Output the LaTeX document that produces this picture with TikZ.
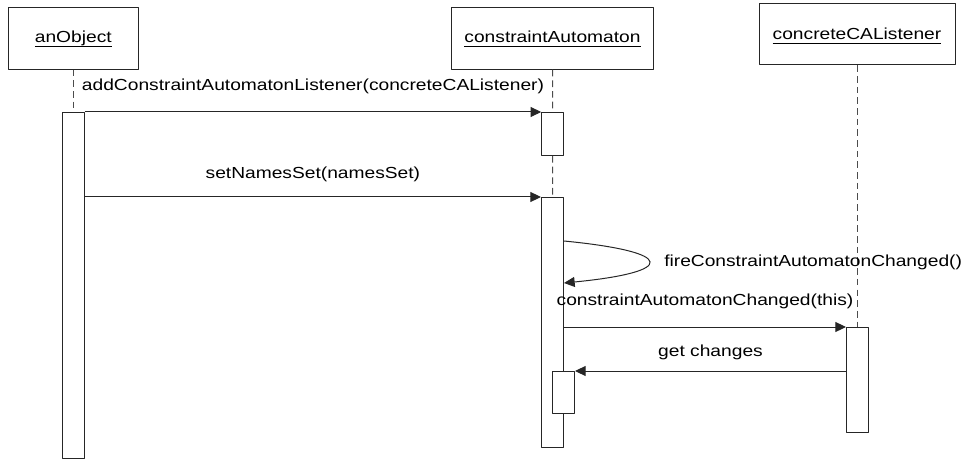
\documentclass[tikz,border=0pt]{standalone}
\usepackage{fontspec}
\newfontfamily\umlfont[FakeStretch=1.2]{Liberation Sans}
\usetikzlibrary{calc,arrows.meta,positioning}

% underlined object name (rule just under the baseline)
\newcommand{\ulname}[1]{\sbox0{#1}\rlap{\rule[-3.2pt]{\wd0}{0.75pt}}\usebox0}

\begin{document}
\begin{tikzpicture}[
		line join=round,
		x=0.75pt, y=-0.75pt,
		>={Triangle[length=8pt, width=7.5pt]},
		outline/.style={draw=black!85, line width=0.75pt},
		lab/.style={font=\umlfont\fontsize{12}{14}\selectfont, text=black, inner sep=0pt, text height=8.7pt, text depth=2.5pt},
		objbox/.style={outline, lab, text height=9pt, text depth=1.8pt},
		actbar/.style={outline, fill=white, anchor=north, minimum width=\ActW, inner sep=0pt},
		msg/.style={->, black!85, line width=0.75pt},
		lifeline/.style={black!70, line width=0.75pt, dash pattern=on 5pt off 3pt}
	]
	
	% Parameters
	\def\ActW{16.5pt}
	
	\useasboundingbox (0,0) rectangle (962,459);
	
	% Objects
	\node[objbox, minimum width=97.5pt, minimum height=46.5pt] (anObj) at (73.3,38.2) {\ulname{anObject}};
	\node[objbox, minimum width=151.2pt, minimum height=46.5pt] (caObj) at (552.5,38.2) {\ulname{constraintAutomaton}};
	\node[objbox, minimum width=147pt, minimum height=45.75pt] (lstObj) at (857,34.5) {\ulname{concreteCAListener}};
	
	% Activations
	\node[actbar, minimum height=259.5pt] (actObj) at (73.3,112) {};
	\node[actbar, minimum height=32.25pt] (actCA1) at (552.7,112) {};
	\node[actbar, minimum height=187.5pt] (actCA2) at (552.5,197) {};
	\node[actbar, minimum height=78.75pt] (actLst) at (857.5,327) {};
	\node[actbar, minimum height=31.5pt] (actCA3) at (563.5,371) {};
	
	% Lifelines
	\draw[lifeline] (anObj.south) -- (actObj.north);
	\draw[lifeline] (caObj.south) -- (actCA1.north);
	\draw[lifeline] (actCA1.south) -- (actCA2.north);
	\draw[lifeline] (lstObj.south) -- (lstObj.south |- actLst.north);
	
	% Messages
	\draw[msg] (actObj.north east) -- node[lab, above=13.5pt] (lAdd) {addConstraintAutomatonListener(concreteCAListener)} (actCA1.north west);
	\draw[msg] (actCA2.north west -| actObj.east) -- node[lab, above=11.3pt] (lSet) {setNamesSet(namesSet)} (actCA2.north west);
	\draw[msg] ($(actCA2.north east)+(0,44)$) .. controls +(113,11) and +(113,-11) .. node[lab, right=11.25pt] (lFire) {fireConstraintAutomatonChanged()} ($(actCA2.north east)+(0,86)$);
	\draw[msg] (actLst.north west -| actCA2.east) -- node[lab, above=13.2pt] (lChg) {constraintAutomatonChanged(this)} (actLst.north west);
	\draw[msg] (actLst.west |- actCA3.north) -- node[lab, above=8pt] (lGet) {get changes} (actCA3.north east);
	
\end{tikzpicture}
\end{document}
